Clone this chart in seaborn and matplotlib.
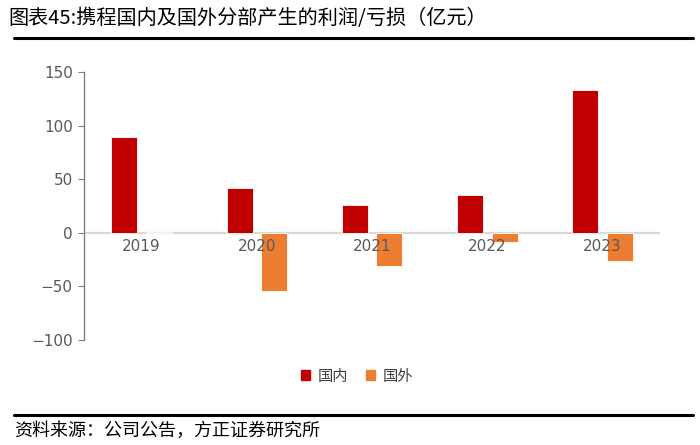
import numpy as np
import pandas as pd
import matplotlib
matplotlib.use("Agg")
import matplotlib.pyplot as plt
import seaborn as sns
from matplotlib.patches import Patch

years = ["2019", "2020", "2021", "2022", "2023"]
domestic = [89.5, 42, 26, 35, 133.5]
overseas = [1, -54, -30.5, -8.5, -26.5]

df = pd.DataFrame({
    "year": years * 2,
    "value": domestic + overseas,
    "region": ["国内"] * 5 + ["国外"] * 5,
})

sns.set_style("white")
plt.rcParams['font.family'] = ['Noto Sans CJK SC', 'DejaVu Sans']

fig = plt.figure(figsize=(7, 4.45), dpi=100)
ax = fig.add_axes([0.12, 0.236, 0.823, 0.602])

ax.axhline(0, color="#d9d9d9", lw=1.6, zorder=1)
sns.barplot(data=df, x="year", y="value", hue="region",
            palette={"国内": "#C00000", "国外": "#ED7D31"}, saturation=1,
            width=0.6, gap=0.25, ax=ax, legend=False, zorder=2,
            edgecolor="white", linewidth=0.6)

ax.set_ylim(-100, 150)
ax.set_xlim(-0.5, 4.5)
ax.set_yticks([-100, -50, 0, 50, 100, 150])
ax.set_yticklabels(["\u2212100", "\u221250", "0", "50", "100", "150"])
ax.set_xlabel("")
ax.set_ylabel("")
for s in ["top", "right", "bottom"]:
    ax.spines[s].set_visible(False)
ax.spines["left"].set_color("#808080")
ax.spines["left"].set_linewidth(1.0)
ax.tick_params(axis="y", left=True, length=4, color="#808080", labelsize=11,
               labelcolor="#595959", pad=4)
ax.tick_params(axis="x", bottom=False)
for lab in ax.get_yticklabels():
    lab.set_family(['Liberation Sans Narrow', 'DejaVu Sans'])
# x labels sit just under the zero line
ax.set_xticks(range(5))
ax.set_xticklabels([])
for i, y in enumerate(years):
    ax.text(i, -6, y, ha="center", va="top", fontsize=11, color="#595959",
            family=['Liberation Sans Narrow', 'DejaVu Sans'], zorder=3)

# legend
handles = [Patch(color="#C00000", label="国内"), Patch(color="#ED7D31", label="国外")]
fig.legend(handles=handles, loc="center", bbox_to_anchor=(0.51, 0.155), ncol=2,
           frameon=False, fontsize=11, handlelength=0.6, handleheight=0.6,
           handletextpad=0.5, columnspacing=1.2, labelcolor="#404040")

# title and source
fig.text(0.012, 0.958, "图表45:携程国内及国外分部产生的利润/亏损（亿元）", fontsize=14.5,
         ha="left", va="center", color="black")
fig.add_artist(plt.Line2D([0.02, 0.99], [0.915, 0.915], color="black", lw=2.2))
fig.add_artist(plt.Line2D([0.02, 0.99], [0.067, 0.067], color="black", lw=2.2))
fig.text(0.02, 0.033, "资料来源：公司公告，方正证券研究所", fontsize=13,
         ha="left", va="center", color="black", style="italic")

fig.savefig("out.png", dpi=100)
